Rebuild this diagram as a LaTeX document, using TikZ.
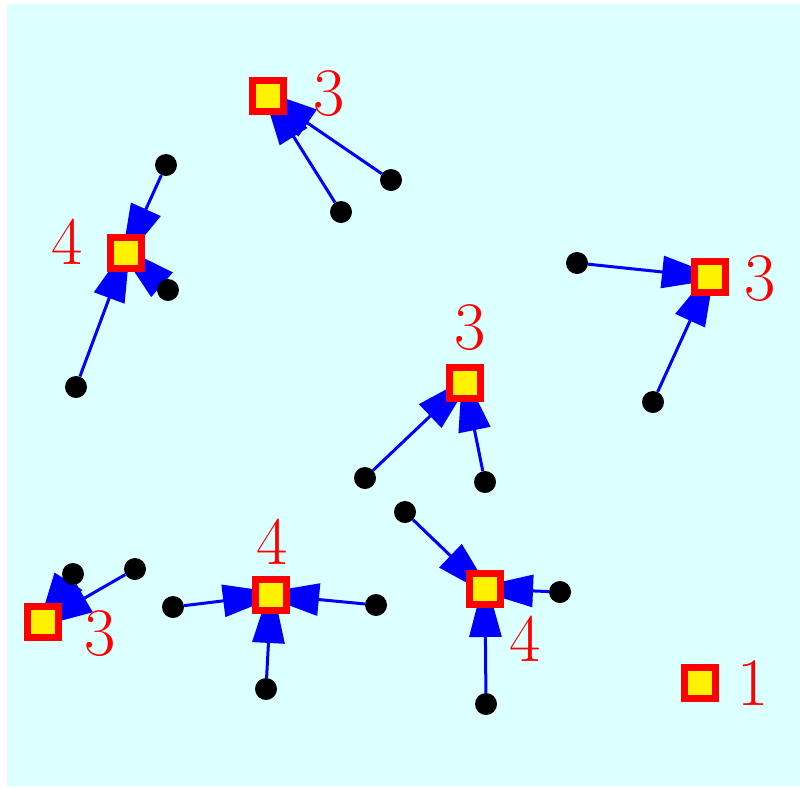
\documentclass[tikz,border=0pt]{standalone}
\usetikzlibrary{arrows.meta}
\definecolor{bgcyan}{RGB}{220,255,255}
\pgfdeclarelayer{bg}
\pgfdeclarelayer{edges}
\pgfsetlayers{bg,edges,main}
\tikzset{
  sq/.style={rectangle,draw=red,fill=yellow,line width=7pt,minimum size=31pt,inner sep=0pt},
  dot/.style={circle,fill=black,minimum size=22pt,inner sep=0pt},
  lab/.style={text=red,font=\fontsize{68}{80}\selectfont,inner sep=0pt},
  edge/.style={draw=blue,line width=3pt,shorten >=-13pt,-{Triangle[length=61pt,width=32pt]}}
}
\begin{document}
\begin{tikzpicture}[x=1pt,y=-1pt]
\begin{pgfonlayer}{bg}
\path[use as bounding box] (0,0) rectangle (800,788);
\fill[bgcyan] (7,4) rectangle (800,786);
\end{pgfonlayer}
% cluster 1
\node[sq] (s1) at (126,253) {};
\node[lab] (l1) at (67,242) {4};
\node[dot] (a1) at (166,165) {};
\node[dot] (a2) at (168,290) {};
\node[dot] (a3) at (76,387) {};
% cluster 2
\node[sq] (s2) at (268,96) {};
\node[lab] (l2) at (329,94) {3};
\node[dot] (b1) at (391,180) {};
\node[dot] (b2) at (341,212) {};
% cluster 3
\node[sq] (s3) at (710,277) {};
\node[lab] (l3) at (760,279) {3};
\node[dot] (c1) at (577,263) {};
\node[dot] (c2) at (653,402) {};
% cluster 4
\node[sq] (s4) at (465,383) {};
\node[lab] (l4) at (470,328) {3};
\node[dot] (d1) at (365,478) {};
\node[dot] (d2) at (485,482) {};
% cluster 5
\node[sq] (s5) at (43,622) {};
\node[lab] (l5) at (100,634) {3};
\node[dot] (e1) at (73,574) {};
\node[dot] (e2) at (135,569) {};
% cluster 6
\node[sq] (s6) at (271,595) {};
\node[lab] (l6) at (272,542) {4};
\node[dot] (f1) at (173,607) {};
\node[dot] (f2) at (376,605) {};
\node[dot] (f3) at (266,689) {};
% cluster 7
\node[sq] (s7) at (485,589) {};
\node[lab] (l7) at (525,639) {4};
\node[dot] (g1) at (405,512) {};
\node[dot] (g2) at (560,592) {};
\node[dot] (g3) at (486,704) {};
% cluster 8
\node[sq] (s8) at (700,683) {};
\node[lab] (l8) at (753,683) {1};
\begin{pgfonlayer}{edges}
\draw[edge] (a1) -- (s1.center);
\draw[edge] (a2) -- (s1.center);
\draw[edge] (a3) -- (s1.center);
\draw[edge] (b1) -- (s2.center);
\draw[edge] (b2) -- (s2.center);
\draw[edge] (c1) -- (s3.center);
\draw[edge] (c2) -- (s3.center);
\draw[edge] (d1) -- (s4.center);
\draw[edge] (d2) -- (s4.center);
\draw[edge] (e1) -- (s5.center);
\draw[edge] (e2) -- (s5.center);
\draw[edge] (f1) -- (s6.center);
\draw[edge] (f2) -- (s6.center);
\draw[edge] (f3) -- (s6.center);
\draw[edge] (g1) -- (s7.center);
\draw[edge] (g2) -- (s7.center);
\draw[edge] (g3) -- (s7.center);
\end{pgfonlayer}
\end{tikzpicture}
\end{document}
